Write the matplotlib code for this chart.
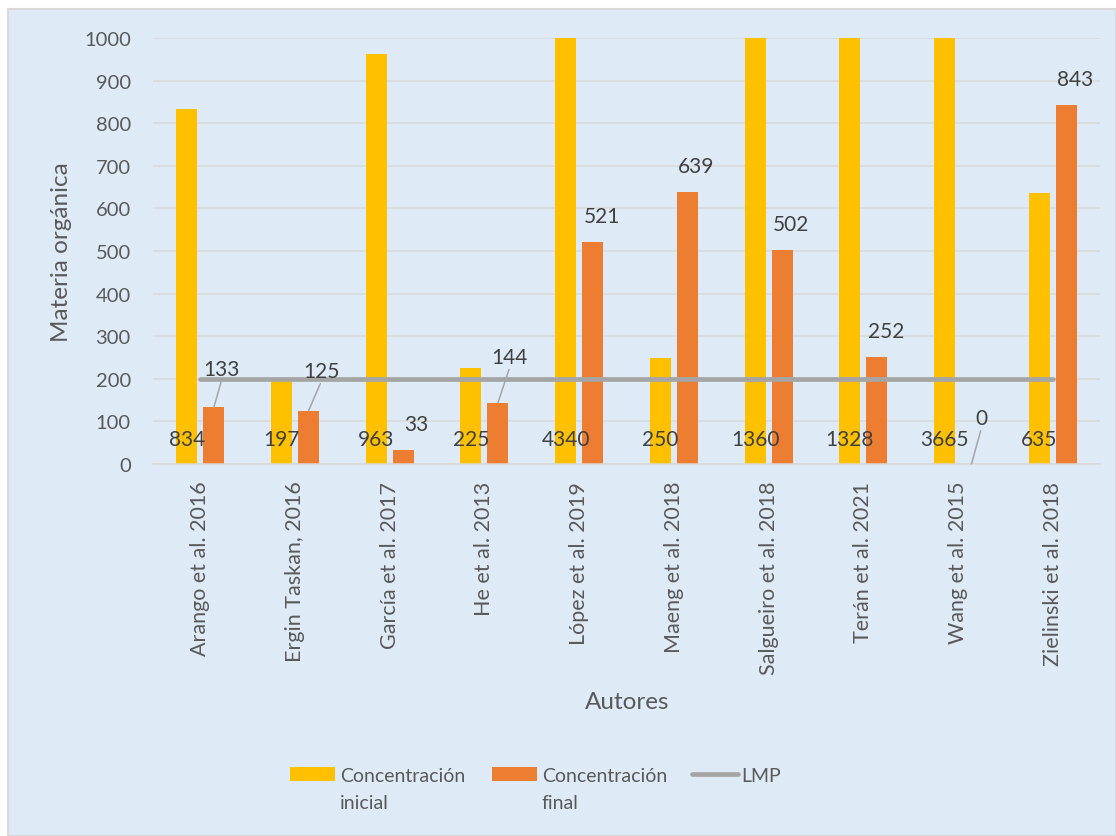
import numpy as np
import matplotlib
matplotlib.use("Agg")
import matplotlib.pyplot as plt
from matplotlib.patches import Rectangle
from matplotlib.lines import Line2D

plt.rcParams['font.family'] = ['Lato', 'DejaVu Sans']

autores = ['Arango et al. 2016', 'Ergin Taskan, 2016', 'García et al. 2017',
           'He et al. 2013', 'López et al. 2019', 'Maeng et al. 2018',
           'Salgueiro et al. 2018', 'Terán et al. 2021', 'Wang et al. 2015',
           'Zielinski et al. 2018']
conc_inicial = [834, 197, 963, 225, 4340, 250, 1360, 1328, 3665, 635]
conc_final = [133, 125, 33, 144, 521, 639, 502, 252, 0, 843]
lmp = [200] * 10

W, H = 1116, 837
yellow = '#FFC000'
orange = '#ED7D31'
gray_line = '#A5A5A5'
label_color = '#404040'
tick_color = '#595959'
grid_color = '#D9D9D9'


def px(x, y):
    # pixel position in the picture -> figure fraction
    return x / W, 1 - y / H


fig = plt.figure(figsize=(W / 100, H / 100), dpi=100)
fig.patch.set_facecolor('white')
fig.patches.append(Rectangle(px(8, 837), 1 - 8 / W, (837 - 10) / H,
                             transform=fig.transFigure, facecolor='#DEEBF7',
                             edgecolor=grid_color, linewidth=1.5, zorder=-5))

ax = fig.add_axes([153 / W, 1 - 465 / H, (1100 - 153) / W, (465 - 39) / H])
ax.set_facecolor('none')

x = np.arange(len(autores))
width = 0.222
off = 0.1425

ax.bar(x - off, conc_inicial, width, color=yellow, zorder=2)
ax.bar(x + off, conc_final, width, color=orange, zorder=2)
ax.plot(x, lmp, color=gray_line, linewidth=3.4, solid_capstyle='round', zorder=3)

ax.set_xlim(-0.5, len(autores) - 0.5)
ax.set_ylim(0, 1000)
ax.set_yticks(np.arange(0, 1001, 100))
ax.grid(axis='y', color=grid_color, linewidth=1.1, zorder=0)
ax.set_axisbelow(True)
for s in ['top', 'right', 'left']:
    ax.spines[s].set_visible(False)
ax.spines['bottom'].set_color(grid_color)
ax.spines['bottom'].set_linewidth(1.1)
ax.tick_params(length=0, labelsize=14.5, colors=tick_color)
ax.tick_params(axis='y', pad=16)
ax.tick_params(axis='x', pad=12, labelsize=15.5)
ax.set_xticks(x)
ax.set_xticklabels(autores, rotation=90)

# labels of initial concentration sit inside the base of the bars
for xi, v in zip(x, conc_inicial):
    ax.annotate(f'{v}', (xi - off, 0), xytext=(0, 25), textcoords='offset pixels',
                ha='center', va='center', fontsize=15, color=label_color, zorder=5)

# labels of final concentration, some moved by hand with leader lines
moved = {0: (8, 38), 1: (13, 40), 2: (13, 26), 3: (12, 46), 8: (10, 46)}
leader = [0, 1, 3, 8]
for i, (xi, v) in enumerate(zip(x, conc_final)):
    dx, dy = moved.get(i, (9, 26))
    kw = {}
    if i in leader:
        kw['arrowprops'] = dict(arrowstyle='-', color=gray_line, lw=1.1,
                                shrinkA=0, shrinkB=0, relpos=(0.5, 0))
    ax.annotate(f'{v}', (xi + off, v), xytext=(dx, dy), textcoords='offset pixels',
                ha='center', va='center', fontsize=15, color=label_color,
                zorder=5, **kw)

fig.text(*px(62, 252), 'Materia orgánica', rotation=90, ha='center', va='center',
         fontsize=17.5, color=tick_color)
fig.text(*px(627, 703), 'Autores', ha='center', va='center',
         fontsize=17.5, color=tick_color)

# legend drawn by hand, Excel style
fig.patches.append(Rectangle(px(290, 782), 45 / W, 14 / H, transform=fig.transFigure,
                             facecolor=yellow, edgecolor='none'))
fig.patches.append(Rectangle(px(492, 782), 45 / W, 14 / H, transform=fig.transFigure,
                             facecolor=orange, edgecolor='none'))
fig.lines.append(Line2D([692 / W, 738 / W], [1 - 775 / H, 1 - 775 / H],
                        transform=fig.transFigure, color=gray_line, linewidth=3.4,
                        solid_capstyle='round'))
for tx, txt in [(340, 'Concentración\ninicial'), (542, 'Concentración\nfinal'),
                (741, 'LMP')]:
    fig.text(*px(tx, 768), txt, ha='left', va='top', fontsize=14,
             color=tick_color, linespacing=1.75)

fig.savefig('out.png', dpi=100)
